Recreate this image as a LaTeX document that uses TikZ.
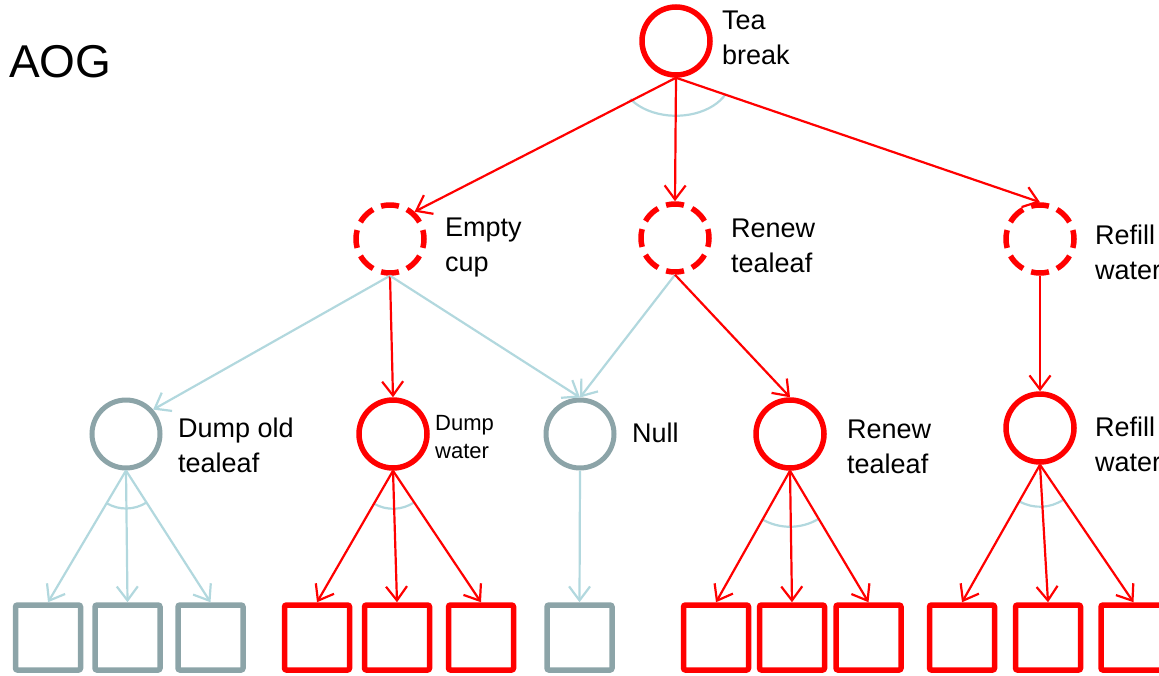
\documentclass[tikz,border=0pt]{standalone}
\usepackage{fontspec}
\setmainfont{Liberation Sans}
\usetikzlibrary{arrows.meta}
\definecolor{aogred}{RGB}{255,0,0}
\definecolor{aoggray}{RGB}{140,164,168}
\definecolor{aogblue}{RGB}{178,216,222}

\begin{document}
\begin{tikzpicture}[
    x=1pt, y=-1pt,
    ornode/.style={circle, draw=aogred, line width=5.5pt, minimum size=68pt, inner sep=0pt},
    andnode/.style={ornode, dash pattern=on 18pt off 8.7pt, dash phase=9pt},
    offnode/.style={ornode, draw=aoggray, line width=5pt},
    leaf/.style={rectangle, draw=aogred, line width=5.5pt, minimum size=65pt, rounded corners=2pt, inner sep=0pt},
    lbl/.style={anchor=north west, inner sep=0pt, align=left, font=\fontsize{27}{35}\selectfont},
    smalllbl/.style={lbl, font=\fontsize{22}{28}\selectfont},
    line/.style={draw, line width=2.2pt, -{Straight Barb[length=14pt,width=21pt]}},
    redline/.style={line, aogred},
    blueline/.style={line, aogblue},
    andarc/.style={draw=aogblue, line width=2.2pt}
  ]
    \useasboundingbox (0,0) rectangle (1159,675);

    \node[anchor=north west, inner sep=0pt, font=\fontsize{46}{55}\selectfont] (title) at (9,45) {AOG};

    % Root
    \node[ornode] (tea) at (676,41) {};
    \node[lbl] (tealbl) at ([shift={(46,-30)}]tea.center) {Tea\\break};

    % Sub-tasks (dashed)
    \node[andnode] (empty) at (390,239) {};
    \node[lbl] (emptylbl) at ([shift={(55,-21)}]empty.center) {Empty\\cup};
    \node[andnode] (renewB) at (675,238) {};
    \node[lbl] (renewBlbl) at ([shift={(56,-19)}]renewB.center) {Renew\\tealeaf};
    \node[andnode] (refillB) at (1040,239) {};
    \node[lbl] (refillBlbl) at ([shift={(55,-14)}]refillB.center) {Refill\\water};

    % Actions
    \node[offnode] (dumpold) at (126,434) {};
    \node[lbl] (dumpoldlbl) at ([shift={(52,-16)}]dumpold.center) {Dump old\\tealeaf};
    \node[ornode] (dumpwater) at (393,434) {};
    \node[smalllbl] (dumpwaterlbl) at ([shift={(42,-19)}]dumpwater.center) {Dump\\water};
    \node[offnode] (null) at (580,434) {};
    \node[lbl] (nulllbl) at ([shift={(52,-11)}]null.center) {Null};
    \node[ornode] (renewC) at (790,434) {};
    \node[lbl] (renewClbl) at ([shift={(57,-14)}]renewC.center) {Renew\\tealeaf};
    \node[ornode] (refillC) at (1040,428) {};
    \node[lbl] (refillClbl) at ([shift={(55,-11)}]refillC.center) {Refill\\water};

    % Terminal boxes
    \foreach \x/\col [count=\i] in {48/aoggray, 127.5/aoggray, 210.5/aoggray,
        317/aogred, 397/aogred, 481/aogred, 579.5/aoggray,
        716/aogred, 792/aogred, 868.5/aogred, 962/aogred, 1048/aogred, 1133.5/aogred}
      \node[leaf, draw=\col] (s\i) at (\x,637.5) {};

    % And-arcs
    \path[andarc] ([shift={(25:55 and 38)}]tea.south) arc[start angle=25, end angle=146, x radius=55, y radius=38];
    \path[andarc] ([shift={(58:38)}]dumpold.south) arc[start angle=58, end angle=120, radius=38];
    \path[andarc] ([shift={(56:38)}]dumpwater.south) arc[start angle=56, end angle=120, radius=38];
    \path[andarc] ([shift={(60:56)}]renewC.south) arc[start angle=60, end angle=120, radius=56];
    \path[andarc] ([shift={(56:42)}]refillC.south) arc[start angle=56, end angle=119, radius=42];

    % Root to sub-tasks
    \path[redline] (tea.south) -- (empty.48);
    \path[redline] (tea.south) -- (renewB.north);
    \path[redline] (tea.south) -- (refillB.north);

    % Sub-tasks to actions
    \path[blueline] (empty.south) -- (dumpold.42);
    \path[redline] (empty.south) -- (dumpwater.north);
    \path[blueline] (empty.south) -- (null.north);
    \path[blueline] (renewB.south) -- (null.north);
    \path[redline] (renewB.south) -- (renewC.north);
    \path[redline] (refillB.south) -- (refillC.north);

    % Actions to boxes
    \foreach \i in {1,2,3} \path[blueline] (dumpold.south) -- (s\i.north);
    \foreach \i in {4,5,6} \path[redline] (dumpwater.south) -- (s\i.north);
    \path[blueline] (null.south) -- (s7.north);
    \foreach \i in {8,9,10} \path[redline] (renewC.south) -- (s\i.north);
    \foreach \i in {11,12,13} \path[redline] (refillC.south) -- (s\i.north);
\end{tikzpicture}
\end{document}
